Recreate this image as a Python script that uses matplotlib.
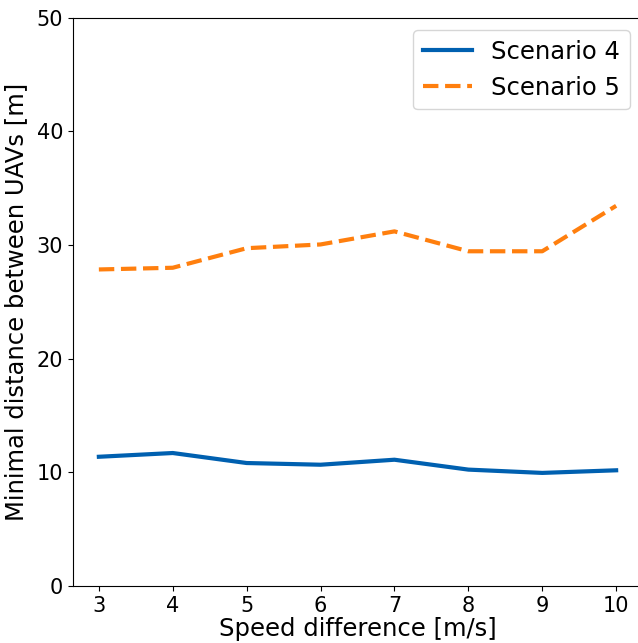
import matplotlib
matplotlib.use("Agg")
import matplotlib.pyplot as plt

speed = [3, 4, 5, 6, 7, 8, 9, 10]
scenario4 = [11.37, 11.70, 10.82, 10.67, 11.11, 10.24, 9.95, 10.18]
scenario5 = [27.85, 28.0, 29.72, 30.05, 31.2, 29.45, 29.45, 33.45]

fig = plt.figure(figsize=(6.38, 6.43), dpi=100)
ax = fig.add_axes([73/638, 1-586/643, (642-73)/638, (586-17.7)/643])
ax.plot(speed, scenario4, color='#0060b0', lw=3, label='Scenario 4')
ax.plot(speed, scenario5, color='#ff7f0e', lw=3, ls='--', label='Scenario 5')
ax.set_ylim(0, 50)
ax.set_xticks(speed)
ax.spines['right'].set_visible(False)
ax.tick_params(labelsize=15)
ax.set_xlabel('Speed difference [m/s]', fontsize=17.5, labelpad=1)
ax.set_ylabel('Minimal distance between UAVs [m]', fontsize=17.5, labelpad=6)
ax.legend(fontsize=17.5, loc='upper right')
fig.savefig('out.png', dpi=100)
